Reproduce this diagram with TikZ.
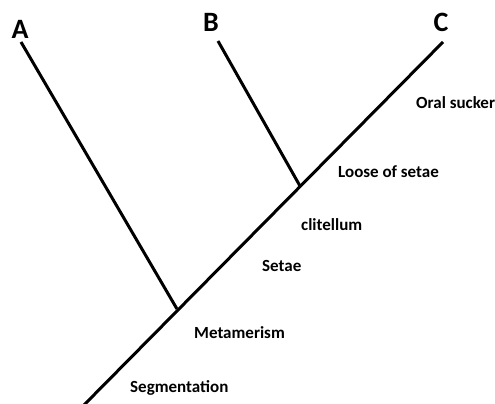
\documentclass[tikz,border=0pt]{standalone}
\usepackage{fontspec}
\setmainfont{Carlito}
\begin{document}
\begin{tikzpicture}[x=1pt,y=-1pt,
  branch/.style={line width=3pt},
  taxon/.style={font=\fontsize{28}{30}\selectfont\bfseries,inner sep=0pt},
  trait/.style={font=\fontsize{17}{19}\selectfont\bfseries,inner sep=0pt,anchor=west}]
\useasboundingbox (0,0) rectangle (495,404);
\coordinate (root) at (83,406);
\coordinate (cTip) at (443,42);
\coordinate (jA) at (177,309);
\coordinate (jB) at (300,186);
\coordinate (aTip) at (21,42);
\coordinate (bTip) at (218,41);
\node[taxon] (A) at (20,29) {A};
\node[taxon] (B) at (211,22) {B};
\node[taxon] (C) at (441,22) {C};
\draw[branch] (root) -- (cTip);
\draw[branch] (aTip) -- (jA);
\draw[branch] (bTip) -- (jB);
\node[trait] (oral) at (416,103) {Oral sucker};
\node[trait] (loose) at (338,172) {Loose of setae};
\node[trait] (clit) at (301,225) {clitellum};
\node[trait] (setae) at (262,266) {Setae};
\node[trait] (meta) at (194,333) {Metamerism};
\node[trait] (seg) at (130,388) {Segmentation};
\end{tikzpicture}
\end{document}
